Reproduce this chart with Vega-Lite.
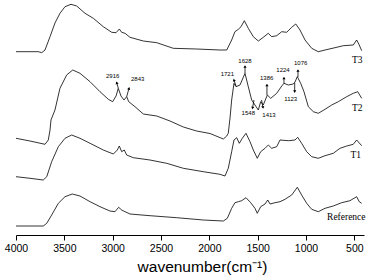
{
  "$schema": "https://vega.github.io/schema/vega-lite/v6.json",
  "width": 348,
  "height": 235,
  "autosize": "none",
  "padding": {"left": 16, "top": 0, "right": 4, "bottom": 45},
  "background": "white",
  "config": {"view": {"stroke": null}, "font": "Liberation Sans"},
  "datasets": {
    "spectra": [
      {"s":"T3","w":4000,"v":183.3},{"s":"T3","w":3769,"v":183.3},{"s":"T3","w":3734,"v":182.3},{"s":"T3","w":3700,"v":185},{"s":"T3","w":3648,"v":198.3},{"s":"T3","w":3597,"v":212},{"s":"T3","w":3545,"v":221.7},{"s":"T3","w":3493,"v":228.3},{"s":"T3","w":3431,"v":230.7},{"s":"T3","w":3372,"v":229},{"s":"T3","w":3286,"v":221.7},{"s":"T3","w":3200,"v":216.7},{"s":"T3","w":3097,"v":208.3},{"s":"T3","w":3010,"v":202.7},{"s":"T3","w":2965,"v":202.3},{"s":"T3","w":2931,"v":206},{"s":"T3","w":2907,"v":202.7},{"s":"T3","w":2872,"v":201.7},{"s":"T3","w":2821,"v":197.7},{"s":"T3","w":2683,"v":194},{"s":"T3","w":2544,"v":192.3},{"s":"T3","w":2373,"v":186.7},{"s":"T3","w":2131,"v":186},{"s":"T3","w":1890,"v":185},{"s":"T3","w":1820,"v":185},{"s":"T3","w":1769,"v":195},{"s":"T3","w":1735,"v":203.3},{"s":"T3","w":1700,"v":205.7},{"s":"T3","w":1672,"v":208.3},{"s":"T3","w":1638,"v":214.3},{"s":"T3","w":1597,"v":206.7},{"s":"T3","w":1545,"v":198.3},{"s":"T3","w":1493,"v":194},{"s":"T3","w":1442,"v":197.7},{"s":"T3","w":1390,"v":201.7},{"s":"T3","w":1355,"v":198.3},{"s":"T3","w":1303,"v":199.3},{"s":"T3","w":1251,"v":203.3},{"s":"T3","w":1200,"v":202.7},{"s":"T3","w":1148,"v":207.7},{"s":"T3","w":1106,"v":211},{"s":"T3","w":1062,"v":205},{"s":"T3","w":1010,"v":195},{"s":"T3","w":941,"v":186.7},{"s":"T3","w":873,"v":183.3},{"s":"T3","w":803,"v":185},{"s":"T3","w":700,"v":187.3},{"s":"T3","w":614,"v":189.3},{"s":"T3","w":511,"v":190},{"s":"T3","w":476,"v":195},{"s":"T3","w":449,"v":190},{"s":"T3","w":424,"v":184.3},
      {"s":"T2","w":4000,"v":96.7},{"s":"T2","w":3855,"v":94},{"s":"T2","w":3700,"v":90.7},{"s":"T2","w":3666,"v":95},{"s":"T2","w":3648,"v":105},{"s":"T2","w":3638,"v":115},{"s":"T2","w":3597,"v":125},{"s":"T2","w":3545,"v":146.7},{"s":"T2","w":3476,"v":160},{"s":"T2","w":3413,"v":165},{"s":"T2","w":3338,"v":161.7},{"s":"T2","w":3234,"v":153.3},{"s":"T2","w":3131,"v":143.3},{"s":"T2","w":3045,"v":135.7},{"s":"T2","w":3000,"v":133.3},{"s":"T2","w":2965,"v":139},{"s":"T2","w":2942,"v":146.7},{"s":"T2","w":2914,"v":139},{"s":"T2","w":2883,"v":135},{"s":"T2","w":2855,"v":138.3},{"s":"T2","w":2834,"v":133.3},{"s":"T2","w":2769,"v":128.3},{"s":"T2","w":2683,"v":121},{"s":"T2","w":2544,"v":119},{"s":"T2","w":2407,"v":114},{"s":"T2","w":2269,"v":108},{"s":"T2","w":2131,"v":104},{"s":"T2","w":1993,"v":101.5},{"s":"T2","w":1855,"v":96},{"s":"T2","w":1820,"v":99},{"s":"T2","w":1804,"v":101.7},{"s":"T2","w":1786,"v":117},{"s":"T2","w":1769,"v":135},{"s":"T2","w":1745,"v":151.7},{"s":"T2","w":1724,"v":148.3},{"s":"T2","w":1683,"v":150},{"s":"T2","w":1631,"v":161.7},{"s":"T2","w":1597,"v":148.3},{"s":"T2","w":1562,"v":135},{"s":"T2","w":1528,"v":130},{"s":"T2","w":1493,"v":125},{"s":"T2","w":1469,"v":133.3},{"s":"T2","w":1442,"v":130},{"s":"T2","w":1400,"v":140},{"s":"T2","w":1365,"v":136.7},{"s":"T2","w":1303,"v":141.7},{"s":"T2","w":1251,"v":149},{"s":"T2","w":1228,"v":151.7},{"s":"T2","w":1183,"v":150},{"s":"T2","w":1131,"v":151},{"s":"T2","w":1114,"v":153},{"s":"T2","w":1090,"v":158.3},{"s":"T2","w":1055,"v":151.7},{"s":"T2","w":1021,"v":143.3},{"s":"T2","w":976,"v":128.3},{"s":"T2","w":924,"v":123.3},{"s":"T2","w":873,"v":121.7},{"s":"T2","w":803,"v":125.7},{"s":"T2","w":734,"v":130},{"s":"T2","w":666,"v":133.3},{"s":"T2","w":579,"v":138.3},{"s":"T2","w":511,"v":141.7},{"s":"T2","w":465,"v":143.3},{"s":"T2","w":424,"v":136.7},
      {"s":"T1","w":4000,"v":58.3},{"s":"T1","w":3855,"v":56.7},{"s":"T1","w":3718,"v":55},{"s":"T1","w":3682,"v":58.3},{"s":"T1","w":3631,"v":73.3},{"s":"T1","w":3562,"v":88.3},{"s":"T1","w":3493,"v":96.7},{"s":"T1","w":3424,"v":100},{"s":"T1","w":3338,"v":96.7},{"s":"T1","w":3234,"v":91.7},{"s":"T1","w":3097,"v":85},{"s":"T1","w":2993,"v":81},{"s":"T1","w":2952,"v":85},{"s":"T1","w":2931,"v":89},{"s":"T1","w":2907,"v":83.3},{"s":"T1","w":2880,"v":85},{"s":"T1","w":2855,"v":80},{"s":"T1","w":2787,"v":77.3},{"s":"T1","w":2614,"v":75},{"s":"T1","w":2441,"v":71.7},{"s":"T1","w":2269,"v":66.7},{"s":"T1","w":2062,"v":63.3},{"s":"T1","w":1890,"v":60.7},{"s":"T1","w":1838,"v":59},{"s":"T1","w":1804,"v":66.7},{"s":"T1","w":1769,"v":83.3},{"s":"T1","w":1745,"v":95},{"s":"T1","w":1717,"v":97.3},{"s":"T1","w":1690,"v":91.7},{"s":"T1","w":1659,"v":96.7},{"s":"T1","w":1621,"v":101.7},{"s":"T1","w":1579,"v":93.3},{"s":"T1","w":1545,"v":85},{"s":"T1","w":1504,"v":76.7},{"s":"T1","w":1469,"v":83.3},{"s":"T1","w":1424,"v":86.7},{"s":"T1","w":1390,"v":90},{"s":"T1","w":1355,"v":86.7},{"s":"T1","w":1303,"v":88.3},{"s":"T1","w":1269,"v":95},{"s":"T1","w":1183,"v":94.3},{"s":"T1","w":1114,"v":95},{"s":"T1","w":1086,"v":97.7},{"s":"T1","w":1045,"v":91.7},{"s":"T1","w":993,"v":83.3},{"s":"T1","w":941,"v":78.3},{"s":"T1","w":873,"v":76.7},{"s":"T1","w":803,"v":79.3},{"s":"T1","w":718,"v":81.7},{"s":"T1","w":648,"v":86.7},{"s":"T1","w":579,"v":89},{"s":"T1","w":511,"v":90.7},{"s":"T1","w":476,"v":95},{"s":"T1","w":424,"v":89.3},
      {"s":"Ref","w":4000,"v":9},{"s":"Ref","w":3718,"v":9},{"s":"Ref","w":3682,"v":11.7},{"s":"Ref","w":3631,"v":20},{"s":"Ref","w":3562,"v":31.7},{"s":"Ref","w":3493,"v":38.3},{"s":"Ref","w":3418,"v":41},{"s":"Ref","w":3338,"v":39},{"s":"Ref","w":3234,"v":33.3},{"s":"Ref","w":3131,"v":28.3},{"s":"Ref","w":3028,"v":24},{"s":"Ref","w":2976,"v":23.3},{"s":"Ref","w":2938,"v":27.7},{"s":"Ref","w":2907,"v":25},{"s":"Ref","w":2872,"v":23.3},{"s":"Ref","w":2821,"v":21},{"s":"Ref","w":2614,"v":19.3},{"s":"Ref","w":2338,"v":17.3},{"s":"Ref","w":2062,"v":15},{"s":"Ref","w":1855,"v":14},{"s":"Ref","w":1814,"v":16.7},{"s":"Ref","w":1769,"v":26.7},{"s":"Ref","w":1735,"v":32.3},{"s":"Ref","w":1700,"v":33.3},{"s":"Ref","w":1665,"v":34.3},{"s":"Ref","w":1621,"v":37.3},{"s":"Ref","w":1572,"v":32.3},{"s":"Ref","w":1528,"v":26.7},{"s":"Ref","w":1504,"v":21.7},{"s":"Ref","w":1469,"v":28.3},{"s":"Ref","w":1424,"v":31},{"s":"Ref","w":1396,"v":35},{"s":"Ref","w":1372,"v":31},{"s":"Ref","w":1321,"v":32.3},{"s":"Ref","w":1269,"v":33.3},{"s":"Ref","w":1217,"v":35.7},{"s":"Ref","w":1148,"v":40},{"s":"Ref","w":1090,"v":47.7},{"s":"Ref","w":1045,"v":40},{"s":"Ref","w":993,"v":31.7},{"s":"Ref","w":941,"v":25.7},{"s":"Ref","w":873,"v":23.3},{"s":"Ref","w":803,"v":26.7},{"s":"Ref","w":718,"v":29},{"s":"Ref","w":631,"v":32.3},{"s":"Ref","w":545,"v":34.3},{"s":"Ref","w":476,"v":38.3},{"s":"Ref","w":449,"v":33.3},{"s":"Ref","w":424,"v":31.7}
    ],
    "arrows": [
      {"t":"2916","w":2942,"v":147,"w2":2958,"v2":152.3,"a":-17,"lw":3000,"lv":159.3},
      {"t":"2843","w":2855,"v":138.3,"w2":2831,"v2":146.7,"a":15,"lw":2741,"lv":155.7},
      {"t":"1721","w":1724,"v":149,"w2":1745,"v2":155,"a":-18,"lw":1814,"lv":160.7},
      {"t":"1628","w":1631,"v":162,"w2":1631,"v2":168.5,"a":0,"lw":1631,"lv":174},
      {"t":"1386","w":1404,"v":140,"w2":1404,"v2":150,"a":0,"lw":1407,"lv":157.3},
      {"t":"1224","w":1228,"v":151.5,"w2":1228,"v2":157,"a":0,"lw":1238,"lv":165},
      {"t":"1076","w":1083,"v":158,"w2":1083,"v2":164.5,"a":0,"lw":1055,"lv":171.7},
      {"t":"1123","w":1117,"v":152.3,"w2":1117,"v2":143.3,"a":180,"lw":1158,"lv":136},
      {"t":"1548","w":1538,"v":135,"w2":1553,"v2":127,"a":190,"lw":1597,"lv":122.3},
      {"t":"1413","w":1460,"v":135,"w2":1445,"v2":127.5,"a":170,"lw":1383,"lv":120}
    ],
    "labels": [
      {"t":"T3","w":469,"v":175},
      {"t":"T2","w":469,"v":126.7},
      {"t":"T1","w":486,"v":80},
      {"t":"Reference","w":583,"v":18.3}
    ]
  },
  "layer": [
    {
      "data": {"name": "spectra"},
      "mark": {"type": "line", "color": "black", "strokeWidth": 0.8},
      "encoding": {
        "x": {
          "field": "w", "type": "quantitative",
          "scale": {"domain": [4000, 400], "nice": false, "zero": false},
          "axis": {
            "values": [4000, 3750, 3500, 3250, 3000, 2750, 2500, 2250, 2000, 1750, 1500, 1250, 1000, 750, 500],
            "format": "d",
            "labelExpr": "datum.value % 500 === 0 ? datum.label : ''",
            "tickSize": {"condition": {"test": "datum.value % 500 === 0", "value": 5}, "value": 3},
            "grid": false,
            "domainColor": "black",
            "tickColor": "black",
            "labelColor": "black",
            "labelFont": "Liberation Sans",
            "labelFontSize": 10.5,
            "labelPadding": 3,
            "labelFlush": false,
            "title": "wavenumber(cm⁻¹)",
            "titleFont": "Liberation Sans",
            "titleFontSize": 15.5,
            "titleFontWeight": "normal",
            "titleColor": "black",
            "titlePadding": 6,
            "titleX": 186
          }
        },
        "y": {"field": "v", "type": "quantitative", "scale": {"domain": [0, 235], "nice": false, "zero": false}, "axis": null},
        "detail": {"field": "s"}
      }
    },
    {
      "data": {"name": "arrows"},
      "mark": {"type": "rule", "color": "black", "strokeWidth": 0.8},
      "encoding": {
        "x": {"field": "w", "type": "quantitative"},
        "y": {"field": "v", "type": "quantitative"},
        "x2": {"field": "w2"},
        "y2": {"field": "v2"}
      }
    },
    {
      "data": {"name": "arrows"},
      "mark": {"type": "point", "shape": "triangle-up", "filled": true, "color": "black", "size": 10, "opacity": 1},
      "encoding": {
        "x": {"field": "w2", "type": "quantitative"},
        "y": {"field": "v2", "type": "quantitative"},
        "angle": {"field": "a", "type": "quantitative", "scale": null}
      }
    },
    {
      "data": {"name": "arrows"},
      "mark": {"type": "text", "font": "Liberation Sans", "fontSize": 6, "color": "black", "align": "center", "baseline": "middle"},
      "encoding": {
        "x": {"field": "lw", "type": "quantitative"},
        "y": {"field": "lv", "type": "quantitative"},
        "text": {"field": "t"}
      }
    },
    {
      "data": {"name": "labels"},
      "mark": {"type": "text", "font": "Liberation Serif", "fontSize": 9.5, "color": "black", "align": "center", "baseline": "middle"},
      "encoding": {
        "x": {"field": "w", "type": "quantitative"},
        "y": {"field": "v", "type": "quantitative"},
        "text": {"field": "t"}
      }
    }
  ]
}
